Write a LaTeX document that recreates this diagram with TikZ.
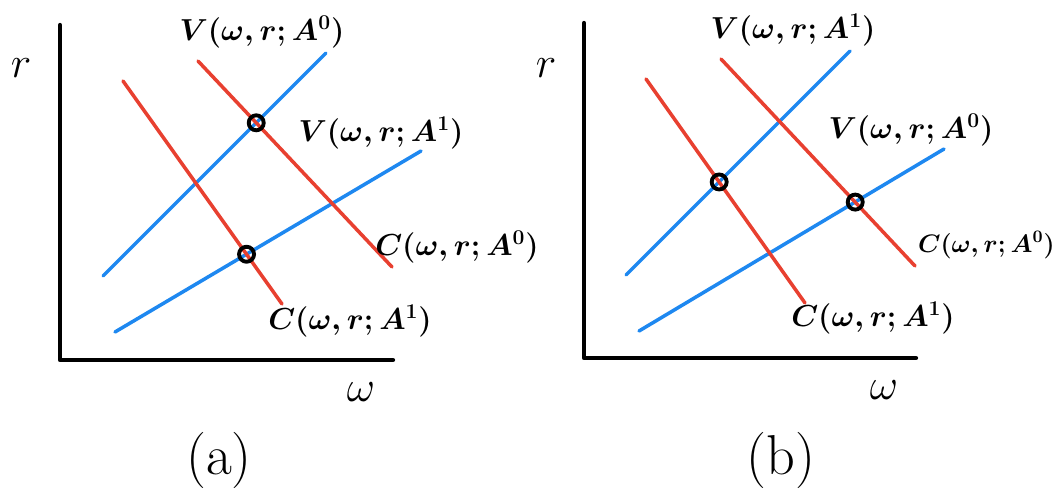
\documentclass[tikz,border=0pt]{standalone}
\usepackage{amsmath}
\usepackage{tikz}
\usetikzlibrary{positioning}
\definecolor{vblue}{RGB}{30,136,240}
\definecolor{cred}{RGB}{232,64,48}

\begin{document}
\begin{tikzpicture}[
  x=0.02cm, y=-0.02cm,
  axis/.style={line width=2.4pt, line cap=round, line join=round},
  vline/.style={vblue, line width=2pt, line cap=round},
  cline/.style={cred, line width=2pt, line cap=round},
  eqpt/.style={draw, circle, line width=2.2pt, minimum size=0.3cm, inner sep=0pt},
  lbl/.style={font=\fontsize{17}{20}\selectfont\boldmath},
  big/.style={font=\fontsize{32}{36}\selectfont}]
\useasboundingbox (0,0) rectangle (1054,493);

% panel (a)
\coordinate (aT) at (60,25);
\coordinate (aO) at (60,360);
\coordinate (aR) at (393,360);
\coordinate (aV0s) at (103,276);
\coordinate (aV0e) at (326,53);
\coordinate (aV1s) at (115,332);
\coordinate (aV1e) at (421,151);
\coordinate (aC1s) at (123,81);
\coordinate (aC1e) at (282,304);
\coordinate (aC0s) at (198,61);
\coordinate (aC0e) at (392,267);
\draw[axis] (aT) -- (aO) -- (aR);
\draw[vline] (aV0s) -- (aV0e);
\draw[vline] (aV1s) -- (aV1e);
\draw[cline] (aC1s) -- (aC1e);
\draw[cline] (aC0s) -- (aC0e);
\node[eqpt] (aE0) at (intersection of aV0s--aV0e and aC0s--aC0e) {};
\node[eqpt] (aE1) at (intersection of aV1s--aV1e and aC1s--aC1e) {};
\node[lbl] (aV0l) at (262,32) {$V(\omega,r;A^0)$};
\node[lbl] (aV1l) at (381,133) {$V(\omega,r;A^1)$};
\node[lbl] (aC0l) at (457,247) {$C(\omega,r;A^0)$};
\node[lbl] (aC1l) at (350,321) {$C(\omega,r;A^1)$};
\node[big] (ar) at (21,68) {$r$};
\node[big] (aw) at (361,392) {$\omega$};
\node[big] (acap) at (219,460) {(a)};

% panel (b)
\coordinate (bT) at (584,23);
\coordinate (bO) at (584,358);
\coordinate (bR) at (916,358);
\coordinate (bV1s) at (626,275);
\coordinate (bV1e) at (850,51);
\coordinate (bV0s) at (639,331);
\coordinate (bV0e) at (944,149);
\coordinate (bC1s) at (646,79);
\coordinate (bC1e) at (805,303);
\coordinate (bC0s) at (721,59);
\coordinate (bC0e) at (915,266);
\draw[axis] (bT) -- (bO) -- (bR);
\draw[vline] (bV1s) -- (bV1e);
\draw[vline] (bV0s) -- (bV0e);
\draw[cline] (bC1s) -- (bC1e);
\draw[cline] (bC0s) -- (bC0e);
\node[eqpt] (bE1) at (intersection of bV1s--bV1e and bC1s--bC1e) {};
\node[eqpt] (bE0) at (intersection of bV0s--bV0e and bC0s--bC0e) {};
\node[lbl] (bV1l) at (793,30) {$V(\omega,r;A^1)$};
\node[lbl] (bV0l) at (911,130) {$V(\omega,r;A^0)$};
\node[lbl, font=\fontsize{14.4}{17}\selectfont\boldmath, anchor=west, inner sep=1pt]
  (bC0l) at (916,245) {$C(\omega,r;A^0)$};
\node[lbl] (bC1l) at (873,318) {$C(\omega,r;A^1)$};
\node[big] (br) at (546,68) {$r$};
\node[big] (bw) at (884,390) {$\omega$};
\node[big] (bcap) at (781,460) {(b)};
\end{tikzpicture}
\end{document}
